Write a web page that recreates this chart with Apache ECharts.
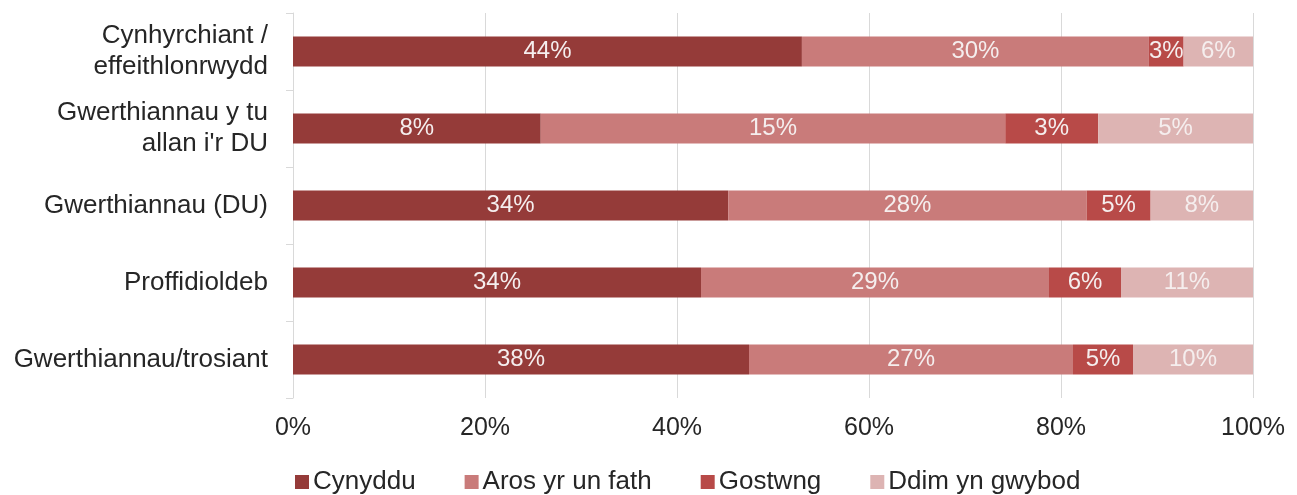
<!DOCTYPE html>
<html>
<head>
<meta charset="utf-8">
<script src="https://cdn.jsdelivr.net/npm/echarts@6/dist/echarts.min.js"></script>
<style>
  html, body { margin: 0; padding: 0; background: #ffffff; }
  #chart { width: 1297px; height: 495px; }
</style>
</head>
<body>
<div id="chart"></div>
<script>
// Categories, top to bottom
const categories = [
  'Cynhyrchiant /\neffeithlonrwydd',
  'Gwerthiannau y tu\nallan i\'r DU',
  'Gwerthiannau (DU)',
  'Proffidioldeb',
  'Gwerthiannau/trosiant'
];

const seriesNames = ['Cynyddu', 'Aros yr un fath', 'Gostwng', 'Ddim yn gwybod'];

// Reported percentages per response
const cynyddu    = [44, 8, 34, 34, 38];
const arosYrUn   = [30, 15, 28, 29, 27];
const gostwng    = [3, 3, 5, 6, 5];
const ddimGwybod = [6, 5, 8, 11, 10];

const xTicks = ['0%', '20%', '40%', '60%', '80%', '100%'];

const colors = ['#953b39', '#c97b7a', '#b84a48', '#ddb4b3'];
const FONT = 'Liberation Sans, Arial, sans-serif';

const raw = [cynyddu, arosYrUn, gostwng, ddimGwybod];
// each bar is the share of the row total, so the stack fills 100%
const totals = categories.map((_, i) => raw.reduce((s, arr) => s + arr[i], 0));

const series = raw.map((arr, k) => ({
  name: seriesNames[k],
  type: 'bar',
  stack: 'all',
  barWidth: 30,
  itemStyle: { color: colors[k] },
  label: {
    show: true,
    position: 'inside',
    color: '#f5eeee',
    fontFamily: FONT,
    fontSize: 24,
    formatter: p => arr[p.dataIndex] + '%'
  },
  data: arr.map((v, i) => v / totals[i] * 100)
}));

const chart = echarts.init(document.getElementById('chart'));
chart.setOption({
  animation: false,
  backgroundColor: '#ffffff',
  textStyle: { fontFamily: FONT },
  grid: { left: 293, right: 44, top: 13, bottom: 97, containLabel: false },
  legend: {
    top: 469,
    left: 295,
    padding: 0,
    itemWidth: 14,
    itemHeight: 14,
    itemGap: 49,
    icon: 'rect',
    textStyle: { fontSize: 26, color: '#262626', padding: [0, 0, 0, -1] },
    data: seriesNames
  },
  xAxis: {
    type: 'value',
    min: 0,
    max: 100,
    interval: 20,
    axisLine: { show: false },
    axisTick: { show: false },
    splitLine: { lineStyle: { color: '#d9d9d9', width: 1 } },
    axisLabel: {
      fontSize: 25,
      color: '#262626',
      margin: 18,
      formatter: v => xTicks[Math.round(v / 20)]
    }
  },
  yAxis: {
    type: 'category',
    inverse: true,
    data: categories,
    axisLine: { show: true, lineStyle: { color: '#d9d9d9' } },
    axisTick: { show: true, length: 7, lineStyle: { color: '#d9d9d9' } },
    axisLabel: {
      fontSize: 26,
      color: '#262626',
      margin: 25,
      lineHeight: 31,
      align: 'right'
    }
  },
  series: series
});
</script>
</body>
</html>
